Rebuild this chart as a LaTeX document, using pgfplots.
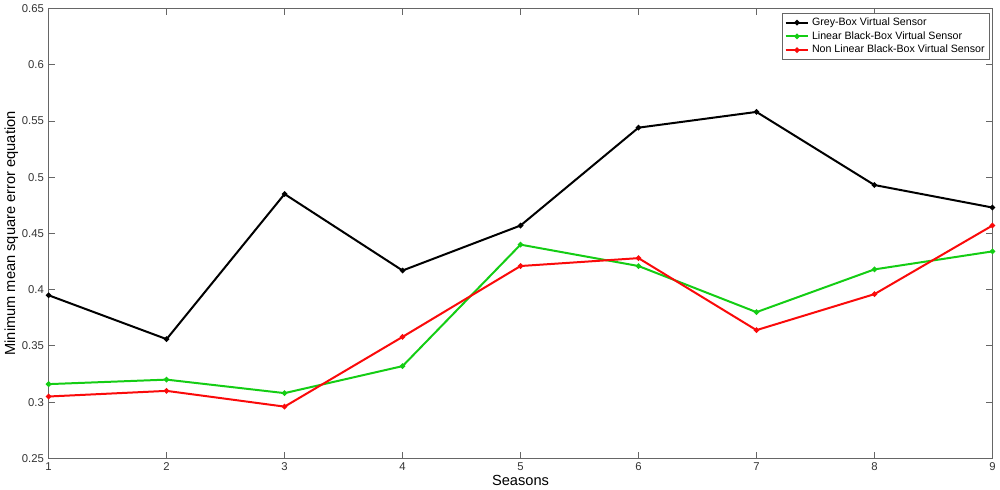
\documentclass[border=0pt]{standalone}
\usepackage{fontspec}
\setmainfont{Liberation Sans}
\usepackage{pgfplots}
\pgfplotsset{compat=1.18}
\definecolor{mgreen}{RGB}{20,205,20}
\definecolor{mred}{RGB}{250,10,10}
\begin{document}
\begin{tikzpicture}
\begin{axis}[
  scale only axis,
  width=709pt, height=338pt,
  xmin=1, xmax=9, ymin=0.25, ymax=0.65,
  xtick={1,...,9},
  ytick={0.25,0.3,...,0.65},
  yticklabels={0.25,0.3,0.35,0.4,0.45,0.5,0.55,0.6,0.65},
  tick align=inside,
  major tick length=5pt,
  axis line style={gray!80!black, line width=0.6pt},
  tick style={gray!80!black, line width=0.6pt},
  ticklabel style={font=\fontsize{8.5}{10}\selectfont, text=black!80},
  /pgf/number format/assume math mode=true,
  xlabel={Seasons},
  ylabel={Minimum mean square error equation},
  label style={font=\fontsize{11}{13}\selectfont},
  xlabel style={yshift=4pt},
  ylabel style={yshift=-4pt},
  legend style={at={(0.997,0.99)}, anchor=north east, font=\fontsize{8}{9.5}\selectfont,
    draw=gray!80!black, inner sep=1.5pt, row sep=-1pt},
  legend cell align=left,
  every axis plot/.append style={line width=1.5pt, mark=*, mark size=1.2pt},
]
\addplot[color=black, mark options={fill=black}] coordinates {
  (1,0.395) (2,0.356) (3,0.485) (4,0.417) (5,0.457) (6,0.544) (7,0.558) (8,0.493) (9,0.473)
};
\addlegendentry{Grey-Box Virtual Sensor}
\addplot[color=mgreen, mark options={fill=mgreen}] coordinates {
  (1,0.316) (2,0.320) (3,0.308) (4,0.332) (5,0.440) (6,0.421) (7,0.380) (8,0.418) (9,0.434)
};
\addlegendentry{Linear Black-Box Virtual Sensor}
\addplot[color=mred, mark options={fill=mred}] coordinates {
  (1,0.305) (2,0.310) (3,0.296) (4,0.358) (5,0.421) (6,0.428) (7,0.364) (8,0.396) (9,0.457)
};
\addlegendentry{Non Linear Black-Box Virtual Sensor}
\end{axis}
\end{tikzpicture}
\end{document}
